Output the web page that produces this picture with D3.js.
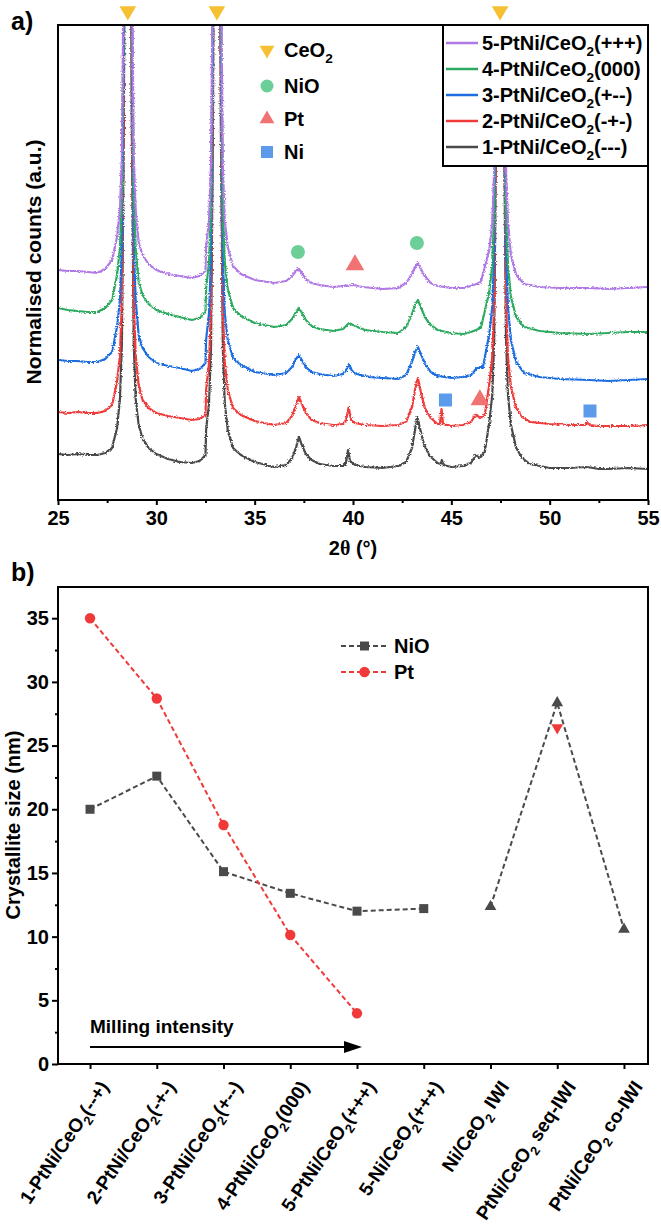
<!DOCTYPE html>
<html>
<head>
<meta charset="utf-8">
<script src="https://cdn.jsdelivr.net/npm/d3@7"></script>
<style>
  body { margin: 0; background: #fff; }
  text { font-family: "Liberation Sans", Arial, sans-serif; font-weight: bold; fill: #000; }
</style>
</head>
<body>
<script>
// ---------- panel a) XRD data, [2theta, counts(a.u.)] ----------
const sampleNames = ["1-PtNi/CeO_2(---)", "2-PtNi/CeO_2(-+-)", "3-PtNi/CeO_2(+--)", "4-PtNi/CeO_2(000)", "5-PtNi/CeO_2(+++)"];
const sampleColors = ["#4a4a4a", "#f03a3a", "#1f6ee0", "#2eaa60", "#b07ae6"];

const xrd1 = [[25,46],[25.5,45],[26,46],[26.5,45],[27,45],[27.4,47],[27.75,52],[28,72],[28.15,101],[28.25,156],[28.35,376],[28.43,846],[28.49,1646],[28.55,3046],[28.61,1646],[28.67,846],[28.75,376],[28.85,156],[28.95,101],[29.1,75],[29.3,62],[29.6,52],[30,46],[30.6,41],[31.2,38],[31.8,37],[32.2,39],[32.5,45],[32.53,70],[32.68,97],[32.78,152],[32.88,372],[32.96,842],[33.02,1642],[33.08,3042],[33.14,1642],[33.2,842],[33.28,372],[33.38,152],[33.48,97],[33.63,70],[33.9,52],[34.3,45],[35,38],[36,33],[36.6,35],[36.9,42],[37.1,52],[37.25,63],[37.4,55],[37.6,46],[37.9,40],[38.3,36],[39,34],[39.5,34],[39.65,38],[39.75,50],[39.85,39],[40.1,35],[40.6,33],[41.5,32],[42.3,34],[42.7,38],[43,52],[43.15,70],[43.27,83],[43.4,72],[43.6,56],[43.9,44],[44.3,37],[44.45,36],[44.52,40],[44.6,35],[45,33],[45.6,34],[46,37],[46.25,45],[46.45,42],[46.7,48],[46.93,78],[47.08,105],[47.18,160],[47.28,380],[47.36,850],[47.42,1650],[47.48,3050],[47.54,1650],[47.6,850],[47.68,380],[47.78,160],[47.88,105],[48.03,75],[48.3,52],[48.6,42],[49,36],[49.5,34],[50,32],[51,32],[51.9,33],[52.5,31],[53,31],[54,32],[55,31]];

const xrd2 = [[25,88],[25.5,87],[26,88],[26.5,87],[27,87],[27.4,89],[27.75,95],[28,118],[28.15,145],[28.25,200],[28.35,420],[28.43,890],[28.49,1690],[28.55,3090],[28.61,1690],[28.67,890],[28.75,420],[28.85,200],[28.95,145],[29.1,115],[29.3,100],[29.6,92],[30,87],[30.6,84],[31.2,82],[31.8,80],[32.2,81],[32.5,85],[32.53,110],[32.68,137],[32.78,192],[32.88,412],[32.96,882],[33.02,1682],[33.08,3082],[33.14,1682],[33.2,882],[33.28,412],[33.38,192],[33.48,137],[33.63,110],[33.9,92],[34.3,85],[35,79],[36,75],[36.6,77],[36.9,84],[37.1,95],[37.25,103],[37.4,96],[37.6,87],[37.9,80],[38.3,77],[39,75],[39.5,76],[39.65,80],[39.78,93],[39.9,80],[40.1,77],[40.6,75],[41.5,74],[42.3,75],[42.7,78],[43,93],[43.15,110],[43.3,122],[43.45,108],[43.65,92],[43.95,82],[44.3,76],[44.42,76],[44.5,91],[44.58,76],[45,74],[45.6,75],[46,78],[46.25,86],[46.45,82],[46.7,85],[46.93,116],[47.08,143],[47.18,198],[47.28,418],[47.36,888],[47.42,1688],[47.48,3088],[47.54,1688],[47.6,888],[47.68,418],[47.78,198],[47.88,143],[48.03,113],[48.3,92],[48.6,83],[49,78],[49.5,77],[50,76],[51,75],[51.8,75],[51.9,78],[52,75],[52.5,74],[53,74],[54,74],[55,75]];

const xrd3 = [[25,140],[25.5,139],[26,139],[26.5,138],[27,138],[27.4,141],[27.75,148],[28,173],[28.15,200],[28.25,255],[28.35,475],[28.43,945],[28.49,1745],[28.55,3145],[28.61,1745],[28.67,945],[28.75,475],[28.85,255],[28.95,200],[29.1,165],[29.3,152],[29.6,143],[30,137],[30.6,134],[31.2,132],[31.8,129],[32.2,131],[32.5,137],[32.53,160],[32.68,187],[32.78,242],[32.88,462],[32.96,932],[33.02,1732],[33.08,3132],[33.14,1732],[33.2,932],[33.28,462],[33.38,242],[33.48,187],[33.63,160],[33.9,142],[34.3,135],[35,128],[36,125],[36.6,127],[36.9,133],[37.1,141],[37.25,145],[37.4,140],[37.6,133],[37.9,128],[38.3,126],[39,124],[39.5,126],[39.65,130],[39.8,136],[39.95,129],[40.2,126],[40.8,123],[41.5,122],[42.3,121],[42.7,125],[43,138],[43.15,148],[43.3,153],[43.45,146],[43.65,137],[43.95,128],[44.3,124],[45,122],[45.6,123],[46,125],[46.3,132],[46.6,132],[46.93,166],[47.08,193],[47.18,248],[47.28,468],[47.36,938],[47.42,1738],[47.48,3138],[47.54,1738],[47.6,938],[47.68,468],[47.78,248],[47.88,193],[48.03,160],[48.3,138],[48.7,127],[49.5,123],[50.5,121],[52,120],[53,119],[54,120],[55,121]];

const xrd4 = [[25,192],[25.5,190],[26,189],[26.5,188],[27,188],[27.4,192],[27.75,200],[28,225],[28.15,252],[28.25,307],[28.35,527],[28.43,997],[28.49,1797],[28.55,3197],[28.61,1797],[28.67,997],[28.75,527],[28.85,307],[28.95,252],[29.1,218],[29.3,205],[29.6,196],[30,190],[30.6,186],[31.2,183],[31.8,180],[32.2,182],[32.5,188],[32.53,211],[32.68,238],[32.78,293],[32.88,513],[32.96,983],[33.02,1783],[33.08,3183],[33.14,1783],[33.2,983],[33.28,513],[33.38,293],[33.48,238],[33.63,211],[33.9,192],[34.3,184],[35,177],[36,173],[36.6,175],[36.9,181],[37.1,188],[37.25,192],[37.4,187],[37.6,180],[37.9,174],[38.3,171],[39,169],[39.5,171],[39.8,177],[40.1,174],[40.6,170],[41.5,168],[42.3,167],[42.7,173],[43,186],[43.15,195],[43.3,200],[43.45,193],[43.65,183],[43.95,175],[44.3,170],[45,167],[45.6,166],[46,168],[46.5,172],[46.93,208],[47.08,235],[47.18,290],[47.28,510],[47.36,980],[47.42,1780],[47.48,3180],[47.54,1780],[47.6,980],[47.68,510],[47.78,290],[47.88,235],[48.03,203],[48.3,183],[48.7,173],[49.5,169],[50.5,167],[52,166],[53,167],[54,168],[55,168]];

const xrd5 = [[25,230],[25.5,229],[26,229],[26.5,228],[27,227],[27.4,231],[27.75,240],[28,263],[28.15,290],[28.25,345],[28.35,565],[28.43,1035],[28.49,1835],[28.55,3235],[28.61,1835],[28.67,1035],[28.75,565],[28.85,345],[28.95,290],[29.1,258],[29.3,245],[29.6,236],[30,230],[30.6,226],[31.2,224],[31.8,222],[32.2,224],[32.5,229],[32.53,253],[32.68,280],[32.78,335],[32.88,555],[32.96,1025],[33.02,1825],[33.08,3225],[33.14,1825],[33.2,1025],[33.28,555],[33.38,335],[33.48,280],[33.63,253],[33.9,234],[34.3,226],[35,220],[36,217],[36.6,219],[36.9,224],[37.1,229],[37.25,231],[37.4,227],[37.6,221],[37.9,217],[38.3,215],[39,213],[39.5,214],[40,215],[40.5,213],[41.5,211],[42.3,212],[42.7,217],[43,226],[43.15,233],[43.3,237],[43.45,231],[43.65,224],[43.95,217],[44.3,214],[45,212],[45.6,212],[46,214],[46.5,218],[46.93,250],[47.08,277],[47.18,332],[47.28,552],[47.36,1022],[47.42,1822],[47.48,3222],[47.54,1822],[47.6,1022],[47.68,552],[47.78,332],[47.88,277],[48.03,245],[48.3,225],[48.7,216],[49.5,213],[50.5,212],[52,212],[53,211],[54,212],[55,213]];

const xrdSeries = [xrd1, xrd2, xrd3, xrd4, xrd5];

// phase markers [2theta, counts level]
const ceo2Peaks = [28.55, 33.08, 47.48];
const nioMarks = [[37.2, 248], [43.25, 257]];
const ptMarks = [[40.1, 235], [46.45, 100]];
const niMarks = [[44.7, 100], [52.05, 89]];
const phaseNames = ["CeO_2", "NiO", "Pt", "Ni"];

// ---------- panel b) crystallite size ----------
const catLabels = ["1-PtNi/CeO_2(--+)", "2-PtNi/CeO_2(-+-)", "3-PtNi/CeO_2(+--)", "4-PtNi/CeO_2(000)", "5-PtNi/CeO_2(+++)", "5-Ni/CeO_2(+++)", "Ni/CeO_2 IWI", "PtNi/CeO_2 seq-IWI", "PtNi/CeO_2 co-IWI"];
const nioMilled = [20.0, 22.6, 15.1, 13.4, 12.0, 12.2];      // categories 0-5
const nioIwi = [12.35, 28.36, 10.57];                        // categories 6-8
const ptMilled = [35.0, 28.7, 18.76, 10.13, 3.98];           // categories 0-4
const ptSeqIwi = 26.4;                                       // category 7
const yTicksB = [0, 5, 10, 15, 20, 25, 30, 35];

const W = 661, H = 1226;
const svg = d3.select("body").append("svg").attr("width", W).attr("height", H);
svg.append("rect").attr("width", W).attr("height", H).attr("fill", "#fff");

// text with "_2" -> subscript 2
function richText(sel, str, size) {
  const parts = str.split("_");
  parts.forEach((p, i) => {
    if (i === 0) { sel.append("tspan").text(p); return; }
    sel.append("tspan").attr("dy", size * 0.3).attr("font-size", size * 0.68).text(p[0]);
    sel.append("tspan").attr("dy", -size * 0.3).text(p.slice(1));
  });
  return sel;
}

// detector-noise look for the scans (rendering effect only)
const defs = svg.append("defs");
const rough = defs.append("filter").attr("id", "rough").attr("x", "-2%").attr("y", "-2%")
  .attr("width", "104%").attr("height", "104%");
rough.append("feTurbulence").attr("type", "fractalNoise").attr("baseFrequency", "0.55 0.9")
  .attr("numOctaves", 2).attr("seed", 3).attr("result", "n");
rough.append("feDisplacementMap").attr("in", "SourceGraphic").attr("in2", "n")
  .attr("scale", 3.2).attr("xChannelSelector", "R").attr("yChannelSelector", "G");

// ================= panel a =================
const xT = d3.scaleLinear().domain([25, 55]).range([58, 648]);
const yT = d3.scaleLinear().domain([0, 475]).range([500, 25]);

defs.append("clipPath").attr("id", "clipA").append("rect")
  .attr("x", 58).attr("y", 25).attr("width", 590).attr("height", 475);

const lineT = d3.line().x(d => xT(d[0])).y(d => yT(d[1]));
const gA = svg.append("g").attr("clip-path", "url(#clipA)").append("g").attr("filter", "url(#rough)");
xrdSeries.forEach((s, i) => {
  gA.append("path").datum(s).attr("d", lineT)
    .attr("fill", "none").attr("stroke", sampleColors[i])
    .attr("stroke-width", 2.2).attr("stroke-linejoin", "round");
});

// axes a
const axA = svg.append("g").attr("transform", "translate(0,500)")
  .call(d3.axisBottom(xT).tickValues(d3.range(25, 56, 5)).tickSize(5).tickPadding(6));
const axAm = svg.append("g").attr("transform", "translate(0,500)")
  .call(d3.axisBottom(xT).tickValues(d3.range(27.5, 55, 5)).tickSize(3).tickFormat(""));
[axA, axAm].forEach(a => {
  a.select(".domain").remove();
  a.selectAll("line").attr("stroke", "#000").attr("stroke-width", 2);
});
axA.selectAll("text").attr("font-size", 20).attr("font-family", "'Liberation Sans', Arial, sans-serif")
  .attr("font-weight", "bold").attr("fill", "#000");

svg.append("rect").attr("x", 58).attr("y", 25).attr("width", 590).attr("height", 475)
  .attr("fill", "none").attr("stroke", "#000").attr("stroke-width", 2);

// series legend
const legA = svg.append("g");
legA.append("rect").attr("x", 443).attr("y", 25).attr("width", 205).attr("height", 141)
  .attr("fill", "#fff").attr("stroke", "#000").attr("stroke-width", 2);
[4, 3, 2, 1, 0].forEach((k, r) => {
  const yy = 43 + r * 26;
  legA.append("line").attr("x1", 446).attr("x2", 478).attr("y1", yy).attr("y2", yy)
    .attr("stroke", sampleColors[k]).attr("stroke-width", 2.5);
  richText(legA.append("text").attr("x", 482).attr("y", yy + 7).attr("font-size", 20), sampleNames[k], 20);
});

// phase markers
const triUp = d3.symbol().type(d3.symbolTriangle);
const gold = "#f6c033", mint = "#6dcf98", salmon = "#f07272", sky = "#5b9bea";
ceo2Peaks.forEach(p => {
  svg.append("path").attr("d", triUp.size(120)())
    .attr("transform", `translate(${xT(p)},11) rotate(180)`).attr("fill", gold);
});
nioMarks.forEach(m => svg.append("circle").attr("cx", xT(m[0])).attr("cy", yT(m[1])).attr("r", 7).attr("fill", mint));
ptMarks.forEach(m => svg.append("path").attr("d", triUp.size(150)())
  .attr("transform", `translate(${xT(m[0])},${yT(m[1])})`).attr("fill", salmon));
niMarks.forEach(m => svg.append("rect").attr("x", xT(m[0]) - 6.5).attr("y", yT(m[1]) - 6.5)
  .attr("width", 13).attr("height", 13).attr("fill", sky));

// phase key
const keyY = [50, 86, 119, 152];
svg.append("path").attr("d", triUp.size(95)()).attr("transform", `translate(267,${keyY[0]}) rotate(180)`).attr("fill", gold);
svg.append("circle").attr("cx", 267).attr("cy", keyY[1]).attr("r", 6.5).attr("fill", mint);
svg.append("path").attr("d", triUp.size(95)()).attr("transform", `translate(267,${keyY[2]})`).attr("fill", salmon);
svg.append("rect").attr("x", 261).attr("y", keyY[3] - 6).attr("width", 12).attr("height", 12).attr("fill", sky);
phaseNames.forEach((n, i) => {
  richText(svg.append("text").attr("x", 284).attr("y", keyY[i] + 7).attr("font-size", 20), n, 20);
});

svg.append("text").attr("x", 11).attr("y", 30).attr("font-size", 25).text("a)");
svg.append("text").attr("transform", "translate(34,262) rotate(-90)").attr("text-anchor", "middle")
  .attr("dy", "0.35em").attr("font-size", 21).text("Normalised counts (a.u.)");
const xl = svg.append("text").attr("x", 353).attr("y", 555).attr("text-anchor", "middle").attr("font-size", 20);
xl.append("tspan").text("2");
xl.append("tspan").attr("font-family", "'Liberation Serif', serif").text("θ");
xl.append("tspan").text(" (°)");

// ================= panel b =================
const xB = d3.scaleLinear().domain([-0.48, 8.36]).range([58, 648]);
const yB = d3.scaleLinear().domain([0, 37.45]).range([1064, 587]);

const axBy = svg.append("g").attr("transform", "translate(58,0)")
  .call(d3.axisLeft(yB).tickValues(yTicksB).tickSize(6).tickPadding(3));
const axBym = svg.append("g").attr("transform", "translate(58,0)")
  .call(d3.axisLeft(yB).tickValues(d3.range(2.5, 37, 5)).tickSize(3).tickFormat(""));
const axBx = svg.append("g").attr("transform", "translate(0,1064)")
  .call(d3.axisBottom(xB).tickValues(d3.range(catLabels.length)).tickSize(5).tickFormat(""));
[axBy, axBym, axBx].forEach(a => {
  a.select(".domain").remove();
  a.selectAll("line").attr("stroke", "#000").attr("stroke-width", 2);
});
axBy.selectAll("text").attr("font-size", 20).attr("font-family", "'Liberation Sans', Arial, sans-serif")
  .attr("font-weight", "bold").attr("fill", "#000");

catLabels.forEach((lab, i) => {
  const t = svg.append("text").attr("transform", `translate(${xB(i) + 14},${1083}) rotate(-56)`)
    .attr("text-anchor", "end").attr("dy", "0.35em").attr("font-size", 19);
  richText(t, lab, 19);
});

svg.append("rect").attr("x", 58).attr("y", 587).attr("width", 590).attr("height", 477)
  .attr("fill", "none").attr("stroke", "#000").attr("stroke-width", 2);

const grey = "#4a4a4a", red = "#f03a3a";
const lineB = d3.line().x(d => xB(d[0])).y(d => yB(d[1]));
const nioA = nioMilled.map((v, i) => [i, v]);
const nioB = nioIwi.map((v, i) => [i + 6, v]);
const ptA = ptMilled.map((v, i) => [i, v]);
[[nioA, grey], [nioB, grey], [ptA, red]].forEach(([d, c]) => {
  svg.append("path").datum(d).attr("d", lineB).attr("fill", "none").attr("stroke", c)
    .attr("stroke-width", 2).attr("stroke-dasharray", "5,3");
});
nioA.forEach(d => svg.append("rect").attr("x", xB(d[0]) - 4.5).attr("y", yB(d[1]) - 4.5)
  .attr("width", 9).attr("height", 9).attr("fill", grey));
nioB.forEach(d => svg.append("path").attr("d", triUp.size(60)())
  .attr("transform", `translate(${xB(d[0])},${yB(d[1])})`).attr("fill", grey));
ptA.forEach(d => svg.append("circle").attr("cx", xB(d[0])).attr("cy", yB(d[1])).attr("r", 5.2).attr("fill", red));
svg.append("path").attr("d", triUp.size(60)())
  .attr("transform", `translate(${xB(7)},${yB(ptSeqIwi)}) rotate(180)`).attr("fill", red);

// legend b
[["NiO", grey, "sq"], ["Pt", red, "ci"]].forEach(([n, c, m], i) => {
  const yy = 646 + i * 26;
  svg.append("line").attr("x1", 341).attr("x2", 388).attr("y1", yy).attr("y2", yy)
    .attr("stroke", c).attr("stroke-width", 2).attr("stroke-dasharray", "5,3");
  if (m === "sq") svg.append("rect").attr("x", 360).attr("y", yy - 4.5).attr("width", 9).attr("height", 9).attr("fill", c);
  else svg.append("circle").attr("cx", 364.5).attr("cy", yy).attr("r", 5.2).attr("fill", c);
  svg.append("text").attr("x", 394).attr("y", yy + 7).attr("font-size", 20).text(n);
});

// milling arrow
svg.append("text").attr("x", 90).attr("y", 1033).attr("font-size", 19).text("Milling intensity");
svg.append("line").attr("x1", 90).attr("x2", 348).attr("y1", 1047).attr("y2", 1047)
  .attr("stroke", "#000").attr("stroke-width", 2);
svg.append("path").attr("d", "M344,1041 L362,1047 L344,1053 Z").attr("fill", "#000");

svg.append("text").attr("x", 11).attr("y", 581).attr("font-size", 25).text("b)");
svg.append("text").attr("transform", "translate(13,825) rotate(-90)").attr("text-anchor", "middle")
  .attr("dy", "0.35em").attr("font-size", 20).text("Crystallite size (nm)");
</script>
</body>
</html>
